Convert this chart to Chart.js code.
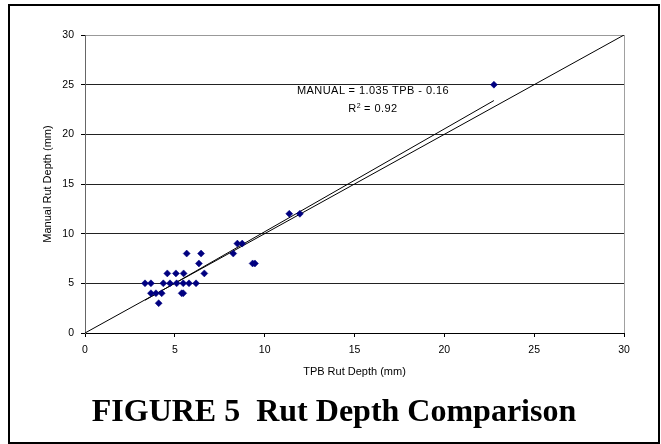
<!DOCTYPE html>
<html><head><meta charset="utf-8">
<script src="https://cdn.jsdelivr.net/npm/chart.js@4/dist/chart.umd.min.js"></script>
<style>
html,body{margin:0;padding:0;background:#fff;}
#wrap{position:relative;width:661px;height:444px;overflow:hidden;background:#fff;}
#frame{position:absolute;left:8px;top:4px;width:652px;height:440px;box-sizing:border-box;border:2px solid #000;}
canvas{position:absolute;left:0;top:0;}
#eq{position:absolute;left:273px;top:82px;width:200px;text-align:center;font:11px 'Liberation Sans',Arial,sans-serif;letter-spacing:0.45px;line-height:17.7px;color:#000;white-space:nowrap;}
#eq .sup{font-size:7px;position:relative;top:-4px;letter-spacing:0;}
#cap{position:absolute;left:8px;width:652px;top:394px;text-align:center;font:bold 32px 'Liberation Serif','Times New Roman',serif;line-height:32px;white-space:pre;color:#000;}
</style></head>
<body>
<div id="wrap">
<div id="frame"></div>
<canvas id="c" width="661" height="444"></canvas>
<div id="eq">MANUAL = 1.035 TPB - 0.16<br>R<span class="sup">2</span> = 0.92</div>
<div id="cap">FIGURE 5  Rut Depth Comparison</div>
</div>
<script>
// Measured points (TPB rut depth vs manual rut depth, mm)
const tpbRut    = [3.34, 3.67, 4.36, 4.73, 5.10, 5.47, 5.79, 6.18,
                   4.58, 5.06, 5.49, 6.64,
                   3.67, 3.95, 4.27, 5.38, 5.47,
                   4.10,
                   6.34, 9.33, 9.46,
                   5.66, 6.46, 8.25,
                   8.48, 8.75,
                   11.37, 11.96,
                   22.76];
const manualRut = [5, 5, 5, 5, 5, 5, 5, 5,
                   6, 6, 6, 6,
                   4, 4, 4, 4, 4,
                   3,
                   7, 7, 7,
                   8, 8, 8,
                   9, 9,
                   12, 12,
                   25];
// Line of equality
const equalityX = [0, 30];
const equalityY = [0, 30];
// Regression trendline end points (MANUAL = 1.035 TPB - 0.16)
const trendX = [3.34, 22.76];
const trendY = [3.30, 23.40];
// Axis ticks
const axisTicks = [0, 5, 10, 15, 20, 25, 30];

const pts = (xs, ys) => xs.map((x, i) => ({x: x, y: ys[i]}));
const FONT = "'Liberation Sans', Arial, sans-serif";

new Chart(document.getElementById('c'), {
  type: 'scatter',
  data: {
    datasets: [
      { label: 'Data', data: pts(tpbRut, manualRut), pointStyle: 'rectRot', pointRadius: 3.5,
        pointHoverRadius: 3.5, backgroundColor: '#000080', borderColor: '#000080', borderWidth: 0.5, showLine: false },
      { label: 'Trend', data: pts(trendX, trendY), showLine: true, pointRadius: 0,
        borderColor: '#000', borderWidth: 1, fill: false },
      { label: 'Equality', data: pts(equalityX, equalityY), showLine: true, pointRadius: 0,
        borderColor: '#000', borderWidth: 1, fill: false }
    ]
  },
  options: {
    responsive: false,
    animation: false,
    devicePixelRatio: 1,
    layout: { padding: { left: 41.4, top: 35, right: 37, bottom: 65.4 } },
    plugins: { legend: { display: false }, tooltip: { enabled: false } },
    scales: {
      x: {
        type: 'linear', min: axisTicks[0], max: axisTicks[axisTicks.length - 1],
        afterBuildTicks: s => { s.ticks = axisTicks.map(v => ({value: v})); },
        afterFit: s => { s.height = 45.6; },
        border: { color: '#000', width: 1 },
        grid: {
          drawOnChartArea: true, drawTicks: true, tickLength: 4, tickColor: '#000',
          color: c => (c.tick && c.tick.value === 30) ? '#a0a0a0' : 'rgba(0,0,0,0)'
        },
        ticks: { color: '#000', padding: 7, font: { family: FONT, size: 10.5 }, maxRotation: 0 },
        title: { display: true, text: 'TPB Rut Depth (mm)', color: '#000', padding: 0,
                 font: { family: FONT, size: 11 } }
      },
      y: {
        type: 'linear', min: axisTicks[0], max: axisTicks[axisTicks.length - 1],
        afterBuildTicks: s => { s.ticks = axisTicks.map(v => ({value: v})); },
        afterFit: s => { s.width = 43.6; },
        border: { color: '#666', width: 1 },
        grid: {
          drawOnChartArea: true, drawTicks: true, tickLength: 4, tickColor: '#000',
          color: c => (c.tick && c.tick.value === 30) ? '#999' : '#222'
        },
        ticks: { color: '#000', padding: 7, font: { family: FONT, size: 10.5 } },
        title: { display: true, text: 'Manual Rut Depth (mm)', color: '#000', padding: 0,
                 font: { family: FONT, size: 11 } }
      }
    }
  }
});
</script>
</body></html>
